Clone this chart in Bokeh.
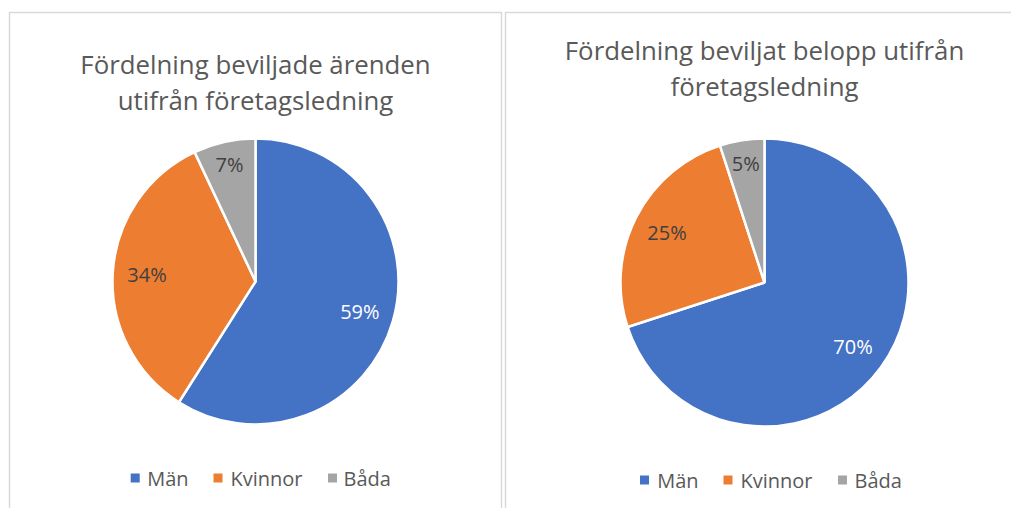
import numpy as np
from bokeh.plotting import figure
from bokeh.models import Range1d
from bokeh.core.properties import value
from bokeh.embed import file_html
from bokeh.resources import INLINE

categories = ["Män", "Kvinnor", "Båda"]
colors = ["#4472C4", "#ED7D31", "#A5A5A5"]
left_title = ["Fördelning beviljade ärenden", "utifrån företagsledning"]
left_values = [59, 34, 7]
right_title = ["Fördelning beviljat belopp utifrån", "företagsledning"]
right_values = [70, 25, 5]

W, H = 1011, 508
FONT = value("Open Sans")
TXT = "#595959"

p = figure(width=W, height=H, output_backend="svg", toolbar_location=None,
           x_range=Range1d(0, W), y_range=Range1d(0, H), min_border=0)
p.axis.visible = False
p.grid.visible = False
p.outline_line_color = None
p.background_fill_color = "white"
p.border_fill_color = "white"

# panel borders
p.quad(left=[9, 505], right=[501, 1030], top=[496, 496], bottom=[-20, -20],
       fill_color=None, line_color="#D9D9D9", line_width=1.5)


def pie(cx, cy, r, vals, title, ty1, ty2, leg_y, leg_sq, leg_tx):
    vals = np.array(vals, dtype=float)
    frac = vals / vals.sum()
    cum = np.concatenate([[0], np.cumsum(frac)])
    start = np.pi / 2 - cum[:-1] * 2 * np.pi
    end = np.pi / 2 - cum[1:] * 2 * np.pi
    p.wedge(x=[cx] * 3, y=[cy] * 3, radius=r, start_angle=list(start),
            end_angle=list(end), direction="clock", fill_color=colors,
            line_color="white", line_width=2.5)
    mid = (start + end) / 2
    f = np.where(frac < 0.1, 0.835, 0.76)
    lx = cx + r * f * np.cos(mid)
    ly = cy + r * f * np.sin(mid)
    labels = [f"{int(v)}%" for v in vals]
    lcol = ["white", "#404040", "#404040"]
    p.text(x=list(lx), y=list(ly), text=labels, text_color=lcol,
           text_font=FONT, text_font_size="20px", text_align="center",
           text_baseline="middle")
    p.text(x=[cx, cx], y=[ty1, ty2], text=title, text_color=TXT,
           text_font=FONT, text_font_size="25.8px", text_align="center",
           text_baseline="middle")
    p.scatter(x=leg_sq, y=[leg_y] * 3, marker="square", size=9,
              fill_color=colors, line_color=None)
    p.text(x=leg_tx, y=[leg_y] * 3, text=categories, text_color=TXT,
           text_font=FONT, text_font_size="20px", text_align="left",
           text_baseline="middle")


pie(255, 227, 143, left_values, left_title, 445, 409, 30.5,
    [134.7, 217.5, 332], [146.7, 230, 343])
pie(764, 226, 144, right_values, right_title, 459, 423, 28.5,
    [644, 727.5, 842], [656.7, 740, 854])

open("out.html", "w").write(file_html(p, INLINE))
